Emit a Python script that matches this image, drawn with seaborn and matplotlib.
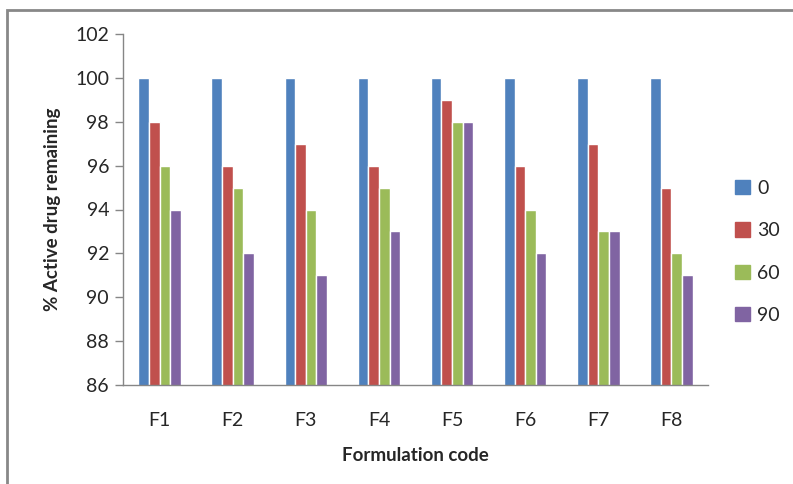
import matplotlib
matplotlib.use("Agg")
import matplotlib.pyplot as plt
import matplotlib.patches as mpatches
import pandas as pd
import seaborn as sns

# Data
formulations = ['F1', 'F2', 'F3', 'F4', 'F5', 'F6', 'F7', 'F8']
days = ['0', '30', '60', '90']
vals_0 = [100, 100, 100, 100, 100, 100, 100, 100]
vals_30 = [98, 96, 97, 96, 99, 96, 97, 95]
vals_60 = [96, 95, 94, 95, 98, 94, 93, 92]
vals_90 = [94, 92, 91, 93, 98, 92, 93, 91]
colors = ['#4F81BD', '#C0504D', '#9BBB59', '#8064A2']

# ----------------------------------------------------------------------------------
# Build long table
rows = []
for d, series in zip(days, [vals_0, vals_30, vals_60, vals_90]):
    for f, v in zip(formulations, series):
        rows.append({'Formulation': f, 'Day': d, 'Value': v})
df = pd.DataFrame(rows)

sns.set_style('white')
plt.rcParams['font.family'] = ['Lato', 'DejaVu Sans']

fig = plt.figure(figsize=(7.93, 4.84), dpi=100)
ax = fig.add_axes([123 / 793, 1 - 385 / 484, (708 - 123) / 793, (385 - 34) / 484])

sns.barplot(data=df, x='Formulation', y='Value', hue='Day', hue_order=days,
            palette=colors, width=0.58, saturation=1, ax=ax, legend=False)

ax.set_ylim(86, 102)
ax.set_yticks(range(86, 103, 2))
ax.set_xlim(-0.5, len(formulations) - 0.5)

for side in ['top', 'right']:
    ax.spines[side].set_visible(False)
for side in ['left', 'bottom']:
    ax.spines[side].set_color('#868686')
    ax.spines[side].set_linewidth(1.0)

ax.tick_params(axis='y', which='major', left=True, length=6, width=1, color='#868686',
               labelsize=14, pad=4)
ax.tick_params(axis='x', bottom=False, labelsize=14, pad=16)

ax.set_ylabel('% Active drug remaining', fontsize=13.5, fontweight='bold', labelpad=10)
ax.set_xlabel('Formulation code', fontsize=13.5, fontweight='bold', labelpad=13)

# Legend on the right
handles = [mpatches.Patch(color=c, label=d) for c, d in zip(colors, days)]
fig.legend(handles=handles, loc='upper left', bbox_to_anchor=(735 / 793, 1 - 180 / 484),
           frameon=False, fontsize=14, handlelength=0.75, handleheight=0.75,
           labelspacing=1.3, handletextpad=0.4, borderaxespad=0, borderpad=0)

# Chart frame
frame = mpatches.Rectangle((7 / 793, -0.1), 1.0, 1 - 10 / 484 + 0.1, transform=fig.transFigure,
                           fill=False, edgecolor='#888888', linewidth=2, clip_on=False)
fig.patches.append(frame)

fig.savefig('out.png', dpi=100)
